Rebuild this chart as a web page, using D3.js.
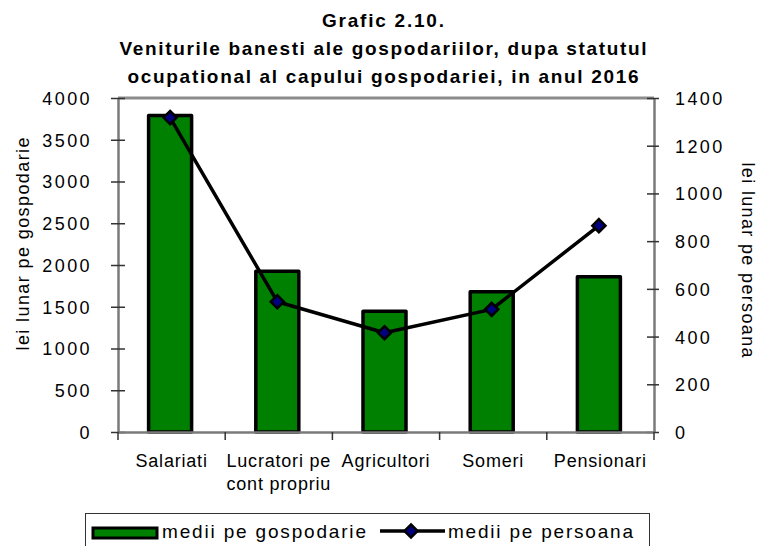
<!DOCTYPE html>
<html>
<head>
<meta charset="utf-8">
<script src="https://cdn.jsdelivr.net/npm/d3@7"></script>
<style>
  html, body { margin: 0; padding: 0; background: #fff; }
  svg { display: block; font-family: "Liberation Sans", Arial, sans-serif; }
</style>
</head>
<body>
<svg id="chart" width="757" height="546"></svg>
<script>
// date din grafic
const categories = ["Salariati", "Lucratori pe\ncont propriu", "Agricultori", "Someri", "Pensionari"];
const perGospodarie = [3790, 1925, 1445, 1680, 1860];
const perPersoana = [1318, 546, 416, 514, 865];
const leftTicks = [0, 500, 1000, 1500, 2000, 2500, 3000, 3500, 4000];
const rightTicks = [0, 200, 400, 600, 800, 1000, 1200, 1400];
const titleLines = ["Grafic 2.10.", "Veniturile banesti ale gospodariilor, dupa statutul", "ocupational al capului gospodariei, in anul 2016"];
const seriesNames = ["medii pe gospodarie", "medii pe persoana"];

const font = '"Liberation Sans", Arial, sans-serif';
const plot = { left: 118, right: 654, top: 98, bottom: 432 };
const svg = d3.select("#chart");

const x = d3.scaleBand().domain(categories).range([plot.left, plot.right]).padding(0);
const yL = d3.scaleLinear().domain([0, 4000]).range([plot.bottom, plot.top]);
const yR = d3.scaleLinear().domain([0, 1400]).range([plot.bottom, plot.top]);

// titlu
const titleW = [122, 527, 511];
const titleY = [27, 55, 83];
svg.append("g").selectAll("text")
  .data(titleLines)
  .join("text")
  .attr("x", 383)
  .attr("y", (d, i) => titleY[i])
  .attr("text-anchor", "middle")
  .attr("font-size", 19)
  .attr("font-weight", "bold")
  .attr("textLength", (d, i) => titleW[i])
  .attr("lengthAdjust", "spacing")
  .text(d => d);

// chenar sus
svg.append("line")
  .attr("x1", plot.left).attr("x2", plot.right)
  .attr("y1", plot.top).attr("y2", plot.top)
  .attr("stroke", "#8c8c8c").attr("stroke-width", 3);

// bare
const barW = 43;
svg.append("g").selectAll("rect")
  .data(perGospodarie)
  .join("rect")
  .attr("x", (d, i) => x(categories[i]) + x.bandwidth() / 2 - barW / 2 - 1.5)
  .attr("y", d => yL(d))
  .attr("width", barW)
  .attr("height", d => yL(0) - yL(d))
  .attr("fill", "#008000")
  .attr("stroke", "#000")
  .attr("stroke-width", 3.5)
  .attr("stroke-linejoin", "round");

// axe
function styleAxis(g) {
  g.attr("font-family", font);
  g.select(".domain").attr("stroke", "#7a7a7a").attr("stroke-width", 2.5);
  g.selectAll(".tick line").attr("stroke", "#333").attr("stroke-width", 1.5);
  g.selectAll(".tick text")
    .attr("font-size", 18)
    .attr("fill", "#000")
    .attr("letter-spacing", 2.4);
}

const axL = svg.append("g")
  .attr("transform", `translate(${plot.left},0)`)
  .call(d3.axisLeft(yL).tickValues(leftTicks).tickSize(7).tickSizeOuter(0).tickPadding(19).tickFormat(d3.format("d")))
  .call(styleAxis);
axL.selectAll(".tick line").attr("x1", 7);
axL.selectAll(".tick text").attr("dy", "0.36em");

const axR = svg.append("g")
  .attr("transform", `translate(${plot.right},0)`)
  .call(d3.axisRight(yR).tickValues(rightTicks).tickSize(5).tickSizeOuter(0).tickPadding(16).tickFormat(d3.format("d")))
  .call(styleAxis);
axR.selectAll(".tick line").attr("x1", -7);
axR.selectAll(".tick text").attr("dy", "0.36em");

// axa orizontala
const axB = svg.append("g")
  .attr("transform", `translate(0,${plot.bottom})`)
  .call(d3.axisBottom(x).tickSize(0).tickSizeOuter(0).tickFormat(""))
  .attr("font-family", font);
axB.select(".domain").attr("stroke", "#7a7a7a").attr("stroke-width", 2.5);
const bounds = categories.map(c => x(c)).concat([x.range()[1]]);
axB.selectAll(".bound")
  .data(bounds)
  .join("line")
  .attr("class", "bound")
  .attr("x1", d => d).attr("x2", d => d)
  .attr("y1", 0).attr("y2", 8)
  .attr("stroke", "#333").attr("stroke-width", 1.5);

axB.selectAll(".cat")
  .data(categories)
  .join("text")
  .attr("class", "cat")
  .attr("x", d => x(d) + x.bandwidth() / 2)
  .attr("y", 35)
  .attr("text-anchor", "middle")
  .attr("fill", "#000")
  .attr("font-size", 18)
  .attr("letter-spacing", 0.8)
  .each(function(d) {
    const t = d3.select(this);
    d.split("\n").forEach((line, i) => {
      t.append("tspan")
        .attr("x", x(d) + x.bandwidth() / 2)
        .attr("dy", i === 0 ? 0 : 23)
        .text(line);
    });
  });

// titluri axe
svg.append("text")
  .attr("transform", "translate(29,244) rotate(-90)")
  .attr("text-anchor", "middle")
  .attr("font-size", 18)
  .attr("textLength", 213)
  .attr("lengthAdjust", "spacing")
  .text("lei lunar pe gospodarie");

svg.append("text")
  .attr("transform", "translate(742,260) rotate(90)")
  .attr("text-anchor", "middle")
  .attr("font-size", 18)
  .attr("textLength", 195)
  .attr("lengthAdjust", "spacing")
  .text("lei lunar pe persoana");

// linia
const line = d3.line()
  .x((d, i) => x(categories[i]) + x.bandwidth() / 2 - 1.5)
  .y(d => yR(d));

svg.append("path")
  .datum(perPersoana)
  .attr("d", line)
  .attr("fill", "none")
  .attr("stroke", "#000")
  .attr("stroke-width", 3.5)
  .attr("stroke-linejoin", "round");

const diamond = d3.symbol().type(d3.symbolDiamond2).size(110);
svg.append("g").selectAll("path")
  .data(perPersoana)
  .join("path")
  .attr("transform", (d, i) => `translate(${x(categories[i]) + x.bandwidth() / 2 - 1.5},${yR(d)})`)
  .attr("d", diamond)
  .attr("fill", "#000080")
  .attr("stroke", "#000")
  .attr("stroke-width", 2.5);

// legenda
const legend = svg.append("g");
legend.append("rect")
  .attr("x", 85.5).attr("y", 513.5)
  .attr("width", 564).attr("height", 45)
  .attr("fill", "#fff")
  .attr("stroke", "#333").attr("stroke-width", 1);
legend.append("rect")
  .attr("x", 93).attr("y", 528)
  .attr("width", 64).attr("height", 10)
  .attr("fill", "#008000")
  .attr("stroke", "#000").attr("stroke-width", 3);
legend.append("text")
  .attr("x", 162).attr("y", 538)
  .attr("font-size", 19)
  .attr("textLength", 204)
  .attr("lengthAdjust", "spacing")
  .text(seriesNames[0]);
legend.append("line")
  .attr("x1", 380).attr("x2", 445)
  .attr("y1", 531).attr("y2", 531)
  .attr("stroke", "#000").attr("stroke-width", 3.5);
legend.append("path")
  .attr("transform", "translate(411,531)")
  .attr("d", diamond)
  .attr("fill", "#000080")
  .attr("stroke", "#000")
  .attr("stroke-width", 2.5);
legend.append("text")
  .attr("x", 448).attr("y", 538)
  .attr("font-size", 19)
  .attr("textLength", 185)
  .attr("lengthAdjust", "spacing")
  .text(seriesNames[1]);
</script>
</body>
</html>
